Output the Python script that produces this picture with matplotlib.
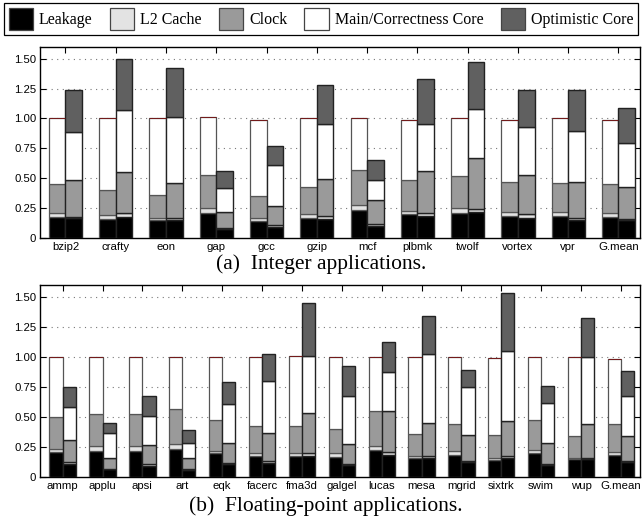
import numpy as np
import matplotlib
matplotlib.use("Agg")
import matplotlib.pyplot as plt
import matplotlib.patches as mpatches

# ---- data -------------------------------------------------------------
COMPONENTS = ["Leakage", "L2 Cache", "Clock", "Main/Correctness Core", "Optimistic Core"]
COLORS = ["#000000", "#e3e3e3", "#9a9a9a", "#ffffff", "#606060"]

INT_NAMES = ["bzip2", "crafty", "eon", "gap", "gcc", "gzip", "mcf",
             "plbmk", "twolf", "vortex", "vpr", "G.mean"]
# baseline bar: leakage, L2, clock, main core
INT_LEAK_A  = [0.180, 0.160, 0.150, 0.214, 0.144, 0.172, 0.233, 0.203, 0.214, 0.190, 0.190, 0.180]
INT_L2_A    = [0.034, 0.034, 0.022, 0.041, 0.026, 0.031, 0.042, 0.025, 0.036, 0.030, 0.030, 0.028]
INT_CLK_A   = [0.239, 0.206, 0.192, 0.270, 0.186, 0.222, 0.297, 0.262, 0.272, 0.252, 0.238, 0.242]
INT_MAIN_A  = [0.547, 0.600, 0.636, 0.485, 0.634, 0.575, 0.428, 0.500, 0.478, 0.518, 0.542, 0.540]
# optimistic design bar
INT_LEAK_B  = [0.167, 0.180, 0.150, 0.078, 0.094, 0.161, 0.100, 0.186, 0.222, 0.172, 0.153, 0.150]
INT_L2_B    = [0.013, 0.034, 0.022, 0.011, 0.016, 0.028, 0.020, 0.022, 0.022, 0.028, 0.014, 0.011]
INT_CLK_B   = [0.303, 0.339, 0.288, 0.133, 0.162, 0.305, 0.200, 0.353, 0.428, 0.330, 0.305, 0.269]
INT_MAIN_B  = [0.407, 0.514, 0.550, 0.198, 0.336, 0.456, 0.170, 0.397, 0.408, 0.400, 0.422, 0.367]
INT_OPT_B   = [0.350, 0.433, 0.410, 0.144, 0.164, 0.333, 0.160, 0.375, 0.395, 0.310, 0.346, 0.293]

FP_NAMES = ["ammp", "applu", "apsi", "art", "eqk", "facerc", "fma3d", "galgel",
            "lucas", "mesa", "mgrid", "sixtrk", "swim", "wup", "G.mean"]
FP_LEAK_A  = [0.202, 0.213, 0.213, 0.233, 0.194, 0.172, 0.172, 0.166, 0.221, 0.155, 0.185, 0.138, 0.194, 0.144, 0.185]
FP_L2_A    = [0.025, 0.042, 0.042, 0.037, 0.022, 0.028, 0.028, 0.028, 0.039, 0.019, 0.028, 0.020, 0.027, 0.016, 0.025]
FP_CLK_A   = [0.273, 0.265, 0.265, 0.292, 0.254, 0.220, 0.220, 0.206, 0.290, 0.186, 0.227, 0.188, 0.249, 0.183, 0.230]
FP_MAIN_A  = [0.500, 0.480, 0.480, 0.438, 0.530, 0.580, 0.588, 0.600, 0.450, 0.640, 0.560, 0.644, 0.530, 0.657, 0.543]
FP_LEAK_B  = [0.102, 0.061, 0.089, 0.055, 0.105, 0.116, 0.172, 0.097, 0.185, 0.155, 0.119, 0.152, 0.094, 0.144, 0.119]
FP_L2_B    = [0.017, 0.005, 0.013, 0.006, 0.011, 0.014, 0.028, 0.013, 0.023, 0.019, 0.014, 0.022, 0.016, 0.016, 0.014]
FP_CLK_B   = [0.191, 0.094, 0.161, 0.099, 0.169, 0.233, 0.330, 0.160, 0.342, 0.276, 0.213, 0.288, 0.172, 0.280, 0.205]
FP_MAIN_B  = [0.270, 0.208, 0.247, 0.125, 0.319, 0.434, 0.478, 0.405, 0.322, 0.570, 0.402, 0.588, 0.335, 0.560, 0.337]
FP_OPT_B   = [0.170, 0.082, 0.160, 0.105, 0.186, 0.223, 0.440, 0.245, 0.248, 0.323, 0.142, 0.480, 0.143, 0.320, 0.205]

Y_TICKS = [0, 0.25, 0.5, 0.75, 1.0, 1.25, 1.5]
Y_LABELS = ["0", "0.25", "0.50", "0.75", "1.00", "1.25", "1.50"]

SANS = ["Liberation Sans", "DejaVu Sans"]
SERIF = ["Liberation Serif", "DejaVu Serif"]

W = 0.33  # bar width


def draw_panel(ax, names, seg_a, seg_b):
    x = np.arange(len(names))
    # baseline bars (no optimistic core -> zero-height cap)
    bottom = np.zeros(len(names))
    for vals, col in zip(seg_a, COLORS):
        ax.bar(x - W / 2, vals, W, bottom=bottom, color=col,
               edgecolor="#555555", linewidth=0.9, zorder=3)
        bottom = bottom + np.array(vals)
    ax.bar(x - W / 2, np.zeros(len(names)), W, bottom=bottom, color=COLORS[4],
           edgecolor="#7a1010", linewidth=0.6, zorder=4)
    bottom = np.zeros(len(names))
    for vals, col in zip(seg_b, COLORS):
        ax.bar(x + W / 2, vals, W, bottom=bottom, color=col,
               edgecolor="#222222", linewidth=1.0, zorder=3)
        bottom = bottom + np.array(vals)

    ax.set_ylim(0, 1.6)
    ax.set_yticks(Y_TICKS)
    ax.set_yticklabels(Y_LABELS, family=SANS, fontsize=8.2)
    ax.set_xticks(x)
    ax.set_xticklabels(names, family=SANS, fontsize=8.2)
    ax.tick_params(axis="both", direction="in", length=4.5, width=0.8,
                   top=True, right=True, pad=3)
    for y in Y_TICKS[1:]:
        ax.axhline(y, color="#777777", linestyle=(0, (1, 4)), linewidth=0.8, zorder=1)
    for s in ax.spines.values():
        s.set_linewidth(1.0)


fig = plt.figure(figsize=(6.42, 5.18), dpi=100)

ax1 = fig.add_axes([0.0628, 0.540, 0.9342, 0.370])
draw_panel(ax1, INT_NAMES,
           [INT_LEAK_A, INT_L2_A, INT_CLK_A, INT_MAIN_A],
           [INT_LEAK_B, INT_L2_B, INT_CLK_B, INT_MAIN_B, INT_OPT_B])
ax1.set_xlim(-0.50, 11.43)

ax2 = fig.add_axes([0.0628, 0.0797, 0.9342, 0.3707])
draw_panel(ax2, FP_NAMES,
           [FP_LEAK_A, FP_L2_A, FP_CLK_A, FP_MAIN_A],
           [FP_LEAK_B, FP_L2_B, FP_CLK_B, FP_MAIN_B, FP_OPT_B])
ax2.set_xlim(-0.56, 14.48)

fig.text(0.5, 0.490, "(a)  Integer applications.", ha="center", va="center",
         family=SERIF, fontsize=15.5)
fig.text(0.507, 0.022, "(b)  Floating-point applications.", ha="center", va="center",
         family=SERIF, fontsize=15.5)

handles = [mpatches.Patch(facecolor=c, edgecolor="#444444", linewidth=0.9, label=l)
           for c, l in zip(COLORS, COMPONENTS)]
leg = fig.legend(handles=handles, loc="upper left", ncol=5, mode="expand",
                 bbox_to_anchor=(0.006, 0.994, 0.988, 0.0),
                 prop={"family": SERIF, "size": 11.5}, handlelength=1.55,
                 handleheight=1.75, handletextpad=0.35, columnspacing=1.0,
                 borderpad=0.3, borderaxespad=0.0, fancybox=False,
                 framealpha=1, edgecolor="black")
leg.get_frame().set_linewidth(0.9)

fig.savefig("out.png", dpi=100)
